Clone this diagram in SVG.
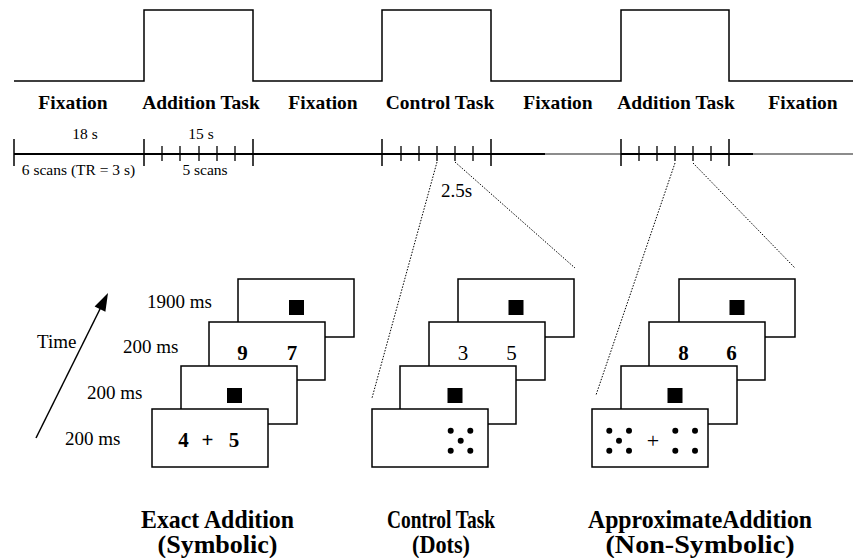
<svg xmlns="http://www.w3.org/2000/svg" width="853" height="558" viewBox="0 0 853 558">
<style>
text{font-family:"Liberation Serif","Times New Roman",serif;fill:#000}
.lab{font-size:19.5px;font-weight:bold;text-anchor:middle}
.sm{font-size:15.5px;text-anchor:middle}
.ms{font-size:19px}
.dig{font-size:21px;font-weight:bold;text-anchor:middle}
.digr{font-size:21px;text-anchor:middle}
.ttl{font-size:25px;font-weight:bold;text-anchor:middle}
.wave{fill:none;stroke:#000;stroke-width:1.5}
.tl{stroke:#000;stroke-width:2}
.tlg{stroke:#666;stroke-width:1.5}
.maj{stroke:#000;stroke-width:1.5}
.min{stroke:#000;stroke-width:1.3}
.dot{stroke:#000;stroke-width:1;stroke-dasharray:1.5 1.5;fill:none}
.box{fill:#fff;stroke:#000;stroke-width:1.5}
</style>

<g id="block-wave">
<path class="wave" d="M14,81 H144 V10 H253 V81 H382 V10 H491 V81 H621 V10 H729 V81 H853"/>
</g>

<g id="block-labels">
<text class="lab" x="73" y="109">Fixation</text>
<text class="lab" x="201" y="109">Addition Task</text>
<text class="lab" x="323" y="109">Fixation</text>
<text class="lab" x="440" y="109">Control Task</text>
<text class="lab" x="558" y="109">Fixation</text>
<text class="lab" x="676" y="109">Addition Task</text>
<text class="lab" x="803" y="109">Fixation</text>
</g>

<g id="timeline">
<line class="tl" x1="14" y1="154" x2="545" y2="154"/>
<line class="tlg" x1="545" y1="154" x2="621" y2="154"/>
<line class="tl" x1="621" y1="154" x2="753" y2="154"/>
<line class="tlg" x1="753" y1="154" x2="853" y2="154"/>
<g class="maj">
<line x1="14" y1="139" x2="14" y2="166"/>
<line x1="144" y1="139" x2="144" y2="166"/>
<line x1="253" y1="139" x2="253" y2="166"/>
<line x1="382" y1="139" x2="382" y2="166"/>
<line x1="491" y1="139" x2="491" y2="166"/>
<line x1="621" y1="139" x2="621" y2="166"/>
<line x1="729" y1="139" x2="729" y2="166"/>
</g>
<g class="min">
<line x1="162" y1="146" x2="162" y2="161"/>
<line x1="180" y1="146" x2="180" y2="161"/>
<line x1="199" y1="146" x2="199" y2="161"/>
<line x1="217" y1="146" x2="217" y2="161"/>
<line x1="235" y1="146" x2="235" y2="161"/>
<line x1="401" y1="146" x2="401" y2="161"/>
<line x1="419" y1="146" x2="419" y2="161"/>
<line x1="437" y1="146" x2="437" y2="161"/>
<line x1="455" y1="146" x2="455" y2="161"/>
<line x1="473" y1="146" x2="473" y2="161"/>
<line x1="639" y1="146" x2="639" y2="161"/>
<line x1="657" y1="146" x2="657" y2="161"/>
<line x1="675" y1="146" x2="675" y2="161"/>
<line x1="693" y1="146" x2="693" y2="161"/>
<line x1="711" y1="146" x2="711" y2="161"/>
</g>
<text class="sm" x="85" y="139">18 s</text>
<text class="sm" x="201" y="139">15 s</text>
<text class="sm" x="78.5" y="175">6 scans (TR = 3 s)</text>
<text class="sm" x="205" y="175">5 scans</text>
<text class="ms" x="441" y="197">2.5s</text>
</g>

<g id="connectors">
<line class="dot" x1="437" y1="162" x2="372" y2="398"/>
<line class="dot" x1="455" y1="162" x2="575" y2="268"/>
<line class="dot" x1="675" y1="163" x2="596" y2="395"/>
<line class="dot" x1="693" y1="163" x2="795" y2="268"/>
</g>

<g id="time-arrow">
<line x1="36" y1="438" x2="101" y2="307" stroke="#000" stroke-width="1.5"/>
<polygon points="108,293 94.6,306.4 105.4,311.8" fill="#000"/>
<text class="ms" x="37" y="348">Time</text>
<text class="ms" x="147" y="308">1900 ms</text>
<text class="ms" x="123" y="353">200 ms</text>
<text class="ms" x="87" y="399">200 ms</text>
<text class="ms" x="65" y="445">200 ms</text>
</g>

<g id="stack-exact">
<rect class="box" x="238" y="279" width="116" height="58"/>
<rect x="289" y="300" width="15" height="15"/>
<rect class="box" x="209" y="322" width="116" height="58"/>
<text class="dig" x="242.5" y="360">9</text>
<text class="dig" x="292" y="360">7</text>
<rect class="box" x="181" y="366" width="116" height="58"/>
<rect x="227" y="388" width="15" height="15"/>
<rect class="box" x="152" y="409" width="116" height="58"/>
<text class="dig" y="447"><tspan x="183.5">4</tspan><tspan x="207.5">+</tspan><tspan x="234">5</tspan></text>
</g>

<g id="stack-control">
<rect class="box" x="458" y="279" width="116" height="58"/>
<rect x="508.5" y="300" width="15" height="15"/>
<rect class="box" x="429" y="322" width="116" height="58"/>
<text class="digr" x="463" y="360">3</text>
<text class="digr" x="511.5" y="360">5</text>
<rect class="box" x="400" y="366" width="116" height="58"/>
<rect x="447.5" y="388" width="15" height="15"/>
<rect class="box" x="372" y="409" width="116" height="58"/>
<g fill="#000">
<circle cx="450.7" cy="430.7" r="3"/>
<circle cx="470.3" cy="430.7" r="3"/>
<circle cx="460.7" cy="440.7" r="3"/>
<circle cx="450.7" cy="450.7" r="3"/>
<circle cx="470.3" cy="450.7" r="3"/>
</g>
</g>

<g id="stack-approx">
<rect class="box" x="679" y="279" width="116" height="58"/>
<rect x="729.5" y="300" width="15" height="15"/>
<rect class="box" x="649" y="322" width="116" height="58"/>
<text class="dig" x="683.5" y="360">8</text>
<text class="dig" x="731.5" y="360">6</text>
<rect class="box" x="621" y="366" width="116" height="58"/>
<rect x="667.5" y="388" width="15" height="15"/>
<rect class="box" x="592" y="409" width="116" height="58"/>
<g fill="#000">
<circle cx="609.3" cy="430.7" r="3"/>
<circle cx="629" cy="430.7" r="3"/>
<circle cx="619" cy="440.7" r="3"/>
<circle cx="609.3" cy="450.7" r="3"/>
<circle cx="629" cy="450.7" r="3"/>
<circle cx="675.3" cy="430.7" r="3"/>
<circle cx="695" cy="430.7" r="3"/>
<circle cx="675.3" cy="450.7" r="3"/>
<circle cx="695" cy="450.7" r="3"/>
</g>
<text x="653" y="448" style="font-size:22px;text-anchor:middle">+</text>
</g>

<g id="titles">
<text class="ttl" x="217.5" y="528" textLength="153" lengthAdjust="spacingAndGlyphs">Exact Addition</text>
<text class="ttl" x="217.5" y="553" textLength="120" lengthAdjust="spacingAndGlyphs">(Symbolic)</text>
<text class="ttl" x="441" y="528" textLength="108" lengthAdjust="spacingAndGlyphs">Control Task</text>
<text class="ttl" x="441" y="553" textLength="58" lengthAdjust="spacingAndGlyphs">(Dots)</text>
<text class="ttl" x="700" y="528" textLength="224" lengthAdjust="spacingAndGlyphs">ApproximateAddition</text>
<text class="ttl" x="700" y="553" textLength="189" lengthAdjust="spacingAndGlyphs">(Non-Symbolic)</text>
</g>
</svg>
